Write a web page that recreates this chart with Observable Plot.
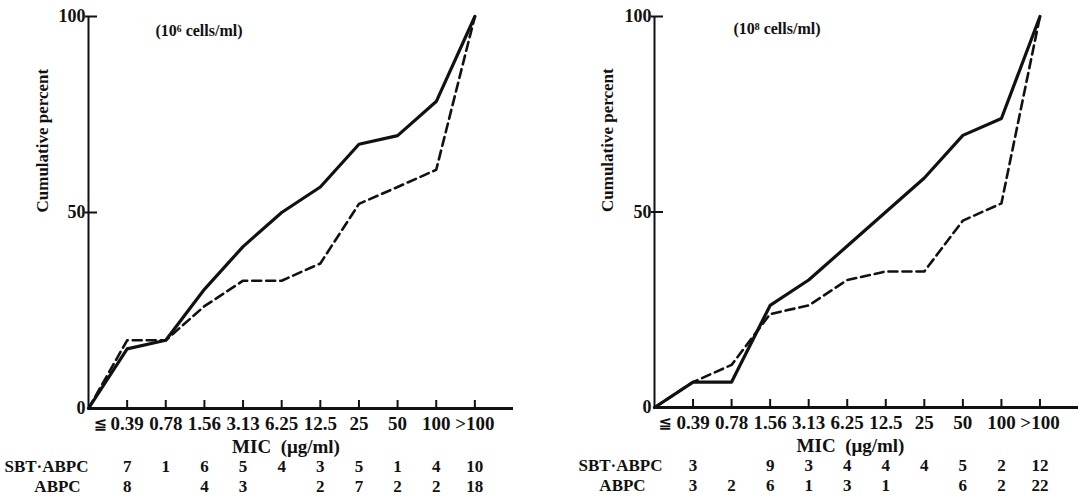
<!DOCTYPE html>
<html>
<head>
<meta charset="utf-8">
<script src="https://cdn.jsdelivr.net/npm/d3@7"></script>
<script src="https://cdn.jsdelivr.net/npm/@observablehq/plot@0.6"></script>
<style>
  html, body { margin: 0; padding: 0; background: #fff; }
  #wrap { display: flex; flex-direction: row; width: 1082px; height: 498px; overflow: hidden; }
  svg { display: block; }
</style>
</head>
<body>
<div id="wrap"></div>
<script>
// ---- data ----
const micLabels = ["≦ 0.39", "0.78", "1.56", "3.13", "6.25", "12.5", "25", "50", "100", ">100"];
const yTicks = [0, 50, 100];
const rowLabels = ["SBT·ABPC", "ABPC"];
const titles = ["(10⁶ cells/ml)", "(10⁸ cells/ml)"];
const yLabel = "Cumulative percent";
const xLabel = "MIC\u00a0\u00a0(μg/ml)";

// cumulative percent (first value = origin)
const sbtCum6  = [0, 15.2, 17.4, 30.4, 41.3, 50.0, 56.5, 67.4, 69.6, 78.3, 100];
const abpcCum6 = [0, 17.4, 17.4, 26.1, 32.6, 32.6, 37.0, 52.2, 56.5, 60.9, 100];
const sbtCum8  = [0, 6.5, 6.5, 26.1, 32.6, 41.3, 50.0, 58.7, 69.6, 73.9, 100];
const abpcCum8 = [0, 6.5, 10.9, 23.9, 26.1, 32.6, 34.8, 34.8, 47.8, 52.2, 100];

// number of strains per MIC
const sbtN6  = [7, 1, 6, 5, 4, 3, 5, 1, 4, 10];
const abpcN6 = [8, null, 4, 3, null, 2, 7, 2, 2, 18];
const sbtN8  = [3, null, 9, 3, 4, 4, 4, 5, 2, 12];
const abpcN8 = [3, 2, 6, 1, 3, 1, null, 6, 2, 22];

const FONT = '"Liberation Serif", "Times New Roman", serif';

function panel(p) {
  const H = 498;
  const frameH = H - p.marginTop - p.marginBottom;
  const frameW = p.width - p.marginLeft - p.marginRight;
  const pts = (arr) => arr.map((v, i) => ({i, v}));
  const ticks = micLabels.map((l, k) => ({i: k + 1, label: l.replace(/^≦\s*/, ""), sym: l.startsWith("≦") ? "≦" : null}));
  const counts = (arr) => arr.map((n, k) => ({i: k + 1, n})).filter(d => d.n != null);
  return Plot.plot({
    width: p.width,
    height: H,
    marginLeft: p.marginLeft,
    marginRight: p.marginRight,
    marginTop: p.marginTop,
    marginBottom: p.marginBottom,
    style: {background: "#fff", color: "#111", fontFamily: FONT, fontWeight: "bold", fontSize: "18px", overflow: "visible"},
    x: {domain: [0, micLabels.length + 1], axis: null},
    y: {domain: [0, 100], axis: null},
    marks: [
      // axes lines
      Plot.ruleX([0], {y1: 0, y2: 100, stroke: "#111", strokeWidth: 2}),
      Plot.ruleY([0], {stroke: "#111", strokeWidth: 3}),
      // y ticks + labels
      Plot.ruleY(yTicks.filter(d => d > 0), {stroke: "#111", strokeWidth: 2, insetLeft: -3, insetRight: frameW - 9}),
      Plot.text(yTicks, {y: d => d, text: d => String(d), frameAnchor: "left", textAnchor: "end", dx: -3, fontSize: 18, fill: "#111"}),
      // x ticks + labels
      Plot.ruleX(ticks, {x: "i", stroke: "#111", strokeWidth: 2, insetTop: frameH - 8}),
      Plot.text(ticks, {x: "i", text: "label", frameAnchor: "bottom", dy: 15, lineAnchor: "middle", fontSize: 19, fill: "#111"}),
      Plot.text(ticks.filter(d => d.sym), {x: "i", text: "sym", frameAnchor: "bottom", dy: 15, dx: p.leqDx, lineAnchor: "middle", fontSize: 16, fontFamily: '"DejaVu Sans", sans-serif', fill: "#111"}),
      Plot.text([xLabel], {frameAnchor: "bottom", dx: p.micDx, dy: p.micDy, lineAnchor: "middle", fontSize: 19, fill: "#111"}),
      // y label
      Plot.text([yLabel], {frameAnchor: "left", rotate: -90, dx: p.yLabelDx, lineAnchor: "middle", fontSize: 17, fill: "#111"}),
      // title
      Plot.text([p.title], {frameAnchor: "top-left", textAnchor: "start", lineAnchor: "middle", dx: p.titleDx, dy: p.titleDy, fontSize: 16, fill: "#111"}),
      // lines
      Plot.line(pts(p.abpc), {x: "i", y: "v", stroke: "#111", strokeWidth: 2.6, strokeDasharray: "9,5"}),
      Plot.line(pts(p.sbt), {x: "i", y: "v", stroke: "#111", strokeWidth: 3.2}),
      // table below
      Plot.text([rowLabels[0]], {frameAnchor: "bottom-left", textAnchor: "middle", lineAnchor: "middle", dx: p.row1Dx, dy: p.rowDy[0], fontSize: 17, fill: "#111"}),
      Plot.text([rowLabels[1]], {frameAnchor: "bottom-left", textAnchor: "middle", lineAnchor: "middle", dx: p.row2Dx, dy: p.rowDy[1], fontSize: 17, fill: "#111"}),
      Plot.text(counts(p.sbtN), {x: "i", text: "n", frameAnchor: "bottom", lineAnchor: "middle", dy: p.rowDy[0], fontSize: 17, fill: "#111"}),
      Plot.text(counts(p.abpcN), {x: "i", text: "n", frameAnchor: "bottom", lineAnchor: "middle", dy: p.rowDy[1], fontSize: 17, fill: "#111"})
    ]
  });
}

const wrap = document.getElementById("wrap");
wrap.appendChild(panel({
  width: 540, marginLeft: 88, marginRight: 27, marginTop: 16, marginBottom: 90,
  sbt: sbtCum6, abpc: abpcCum6, sbtN: sbtN6, abpcN: abpcN6,
  title: titles[0], titleDx: 67, titleDy: 14,
  yLabelDx: -46, leqDx: -27, micDx: -15, micDy: 38,
  row1Dx: -42, row2Dx: -31, rowDy: [58, 78]
}));
wrap.appendChild(panel({
  width: 542, marginLeft: 114, marginRight: 4, marginTop: 16, marginBottom: 91,
  sbt: sbtCum8, abpc: abpcCum8, sbtN: sbtN8, abpcN: abpcN8,
  title: titles[1], titleDx: 79, titleDy: 12,
  yLabelDx: -47, leqDx: -28, micDx: -16, micDy: 38,
  row1Dx: -34, row2Dx: -32, rowDy: [58, 78]
}));
</script>
</body>
</html>
